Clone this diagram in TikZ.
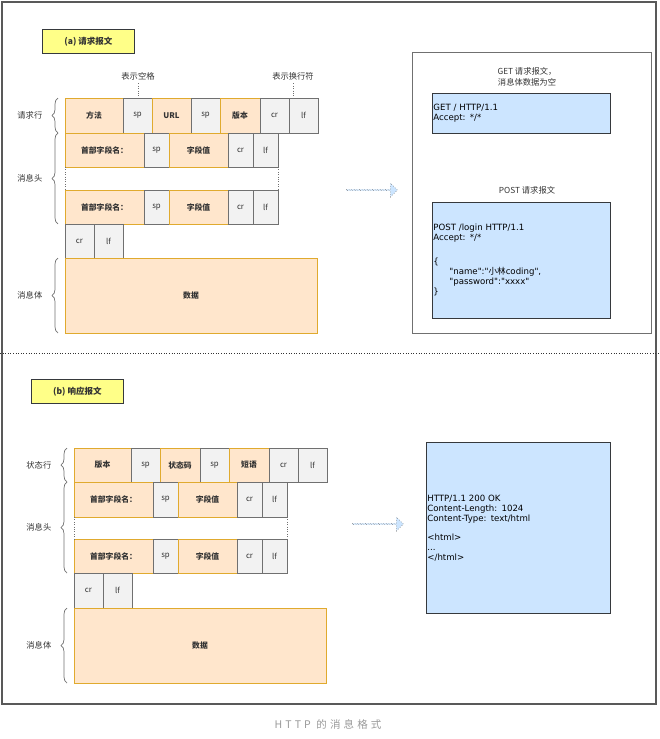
\documentclass[tikz,border=0pt]{standalone}
\usepackage{fontspec}
\setmainfont{Noto Sans CJK SC}
\newfontfamily\codefont{DejaVu Sans}
\newfontfamily\cjkfont{Noto Sans CJK SC}
\usepackage{xcolor}
\usetikzlibrary{positioning,shapes.arrows,decorations.pathreplacing}
\definecolor{peach}{HTML}{FFE6CC}
\definecolor{gold}{HTML}{E0AA2E}
\definecolor{cellfill}{HTML}{F2F2F2}
\definecolor{cellline}{HTML}{707070}
\definecolor{codeblue}{HTML}{CCE5FF}
\definecolor{boxline}{HTML}{36393D}
\definecolor{tagyellow}{HTML}{FFFF88}
\definecolor{txtgray}{HTML}{333333}

\begin{document}
\begin{tikzpicture}[
  x=1pt, y=-1pt,
  font=\fontsize{7.5}{9}\selectfont, text=txtgray,
  cell/.style={draw, inner sep=0pt, outer sep=0pt, minimum height=35pt, line width=0.8pt},
  fcell/.style={cell, fill=peach, draw=gold, font=\fontsize{7.8}{9}\selectfont\bfseries},
  gcell/.style={cell, fill=cellfill, draw=cellline, font=\fontsize{7.8}{9}\selectfont},
  tag/.style={draw=boxline, fill=tagyellow, line width=0.8pt, minimum width=92pt, minimum height=24pt, font=\fontsize{8.5}{9}\selectfont\bfseries},
  brace/.style={decorate, decoration={brace, amplitude=6pt}, draw=cellline, line width=0.7pt},
  blabel/.style={left=12pt, font=\fontsize{8.3}{9}\selectfont},
  note/.style={align=center, font=\fontsize{8.3}{10.5}\selectfont},
  codebox/.style={draw=boxline, fill=codeblue, line width=0.8pt, align=left, inner sep=1pt, anchor=north west, text=black, font=\codefont\fontsize{8.6}{10}\selectfont},
  panel/.style={draw=cellline, line width=0.8pt, inner sep=0pt, anchor=north west},
  bigarrow/.style={single arrow, draw=black!55, dotted, line width=0.6pt, fill=codeblue, inner sep=0pt, minimum width=14pt, minimum height=51pt, single arrow head extend=3pt}
]
\useasboundingbox (0,0) rectangle (660,739);
\draw[draw=black!65, line width=1.6pt] (2,2) rectangle (656,704);

% (a) request
\node[tag, anchor=north west] (taga) at (42,29) {(a)\ 请求报文};
\node[fcell, minimum width=58pt, anchor=north west] (r1) at (65,98) {方法};
\node[gcell, minimum width=29pt, right=0pt of r1] (r2) {sp};
\node[fcell, minimum width=39pt, right=0pt of r2] (r3) {URL};
\node[gcell, minimum width=29pt, right=0pt of r3] (r4) {sp};
\node[fcell, minimum width=40pt, right=0pt of r4] (r5) {版本};
\node[gcell, minimum width=29pt, right=0pt of r5] (r6) {cr};
\node[gcell, minimum width=29pt, right=0pt of r6] (r7) {lf};
\node[note] (sptxt) at (138,76) {表示空格};
\node[note] (nltxt) at (293,76) {表示换行符};
\draw[dotted, cellline] (sptxt.south) -- (sptxt.south |- r2.north);
\draw[dotted, cellline] (nltxt.south) -- (nltxt.south |- r7.north);

\node[fcell, minimum width=79pt, minimum height=34pt, anchor=north west] (h1) at (r1.south west) {首部字段名：};
\node[gcell, minimum width=25pt, minimum height=34pt, right=0pt of h1] (h2) {sp};
\node[fcell, minimum width=59pt, minimum height=34pt, right=0pt of h2] (h3) {字段值};
\node[gcell, minimum width=25pt, minimum height=34pt, right=0pt of h3] (h4) {cr};
\node[gcell, minimum width=25pt, minimum height=34pt, right=0pt of h4] (h5) {lf};

\node[fcell, minimum width=79pt, minimum height=34pt, below=23pt of h1] (k1) {首部字段名：};
\node[gcell, minimum width=25pt, minimum height=34pt, right=0pt of k1] (k2) {sp};
\node[fcell, minimum width=59pt, minimum height=34pt, right=0pt of k2] (k3) {字段值};
\node[gcell, minimum width=25pt, minimum height=34pt, right=0pt of k3] (k4) {cr};
\node[gcell, minimum width=25pt, minimum height=34pt, right=0pt of k4] (k5) {lf};
\draw[dotted, cellline] (h1.south west) -- (k1.north west);
\draw[dotted, cellline] (h5.south east) -- (k5.north east);

\node[gcell, minimum width=29pt, minimum height=34pt, anchor=north west] (c1) at (k1.south west) {cr};
\node[gcell, minimum width=29pt, minimum height=34pt, right=0pt of c1] (c2) {lf};
\node[fcell, minimum width=252pt, minimum height=75pt, anchor=north west] (d1) at (c1.south west) {数据};

\draw[brace] ([xshift=-7pt]r1.south west) -- node[blabel] {请求行} ([xshift=-7pt]r1.north west);
\draw[brace] ([xshift=-7pt]k1.south west) -- node[blabel] {消息头} ([xshift=-7pt]h1.north west);
\draw[brace] ([xshift=-7pt]d1.south west) -- node[blabel] {消息体} ([xshift=-7pt]d1.north west);

\node[bigarrow] (arra) at (371.5,190) {};

\node[panel, minimum width=239pt, minimum height=281pt] (pa) at (412,52) {};
\node[note] (gett) at (527,77) {GET 请求报文，\\消息体数据为空};
\node[codebox, text width=176pt, minimum height=40pt] (getb) at (432,93) {GET / HTTP/1.1\\Accept: */*};
\node[note] (postt) at (527,190) {POST 请求报文};
\node[codebox, text width=176pt, minimum height=116pt] (postb) at (432,202) {POST /login HTTP/1.1\\Accept: */*\\[14pt]\{\\\hspace*{16pt}"name":"{\cjkfont 小林}coding",\\\hspace*{16pt}"password":"xxxx"\\\}};

\draw[dotted, line width=0.6pt, black!80] (0,353) -- (660,353);

% (b) response
\node[tag, anchor=north west] (tagb) at (31,379) {(b)\ 响应报文};
\node[fcell, minimum width=57pt, minimum height=34pt, anchor=north west] (s1) at (74,448) {版本};
\node[gcell, minimum width=29pt, minimum height=34pt, right=0pt of s1] (s2) {sp};
\node[fcell, minimum width=40pt, minimum height=34pt, right=0pt of s2] (s3) {状态码};
\node[gcell, minimum width=29pt, minimum height=34pt, right=0pt of s3] (s4) {sp};
\node[fcell, minimum width=40pt, minimum height=34pt, right=0pt of s4] (s5) {短语};
\node[gcell, minimum width=29pt, minimum height=34pt, right=0pt of s5] (s6) {cr};
\node[gcell, minimum width=29pt, minimum height=34pt, right=0pt of s6] (s7) {lf};

\node[fcell, minimum width=79pt, anchor=north west] (m1) at (s1.south west) {首部字段名：};
\node[gcell, minimum width=25pt, right=0pt of m1] (m2) {sp};
\node[fcell, minimum width=59pt, right=0pt of m2] (m3) {字段值};
\node[gcell, minimum width=25pt, right=0pt of m3] (m4) {cr};
\node[gcell, minimum width=25pt, right=0pt of m4] (m5) {lf};

\node[fcell, minimum width=79pt, minimum height=34pt, below=22pt of m1] (n1) {首部字段名：};
\node[gcell, minimum width=25pt, minimum height=34pt, right=0pt of n1] (n2) {sp};
\node[fcell, minimum width=59pt, minimum height=34pt, right=0pt of n2] (n3) {字段值};
\node[gcell, minimum width=25pt, minimum height=34pt, right=0pt of n3] (n4) {cr};
\node[gcell, minimum width=25pt, minimum height=34pt, right=0pt of n4] (n5) {lf};
\draw[dotted, cellline] (m1.south west) -- (n1.north west);
\draw[dotted, cellline] (m5.south east) -- (n5.north east);

\node[gcell, minimum width=29pt, anchor=north west] (e1) at (n1.south west) {cr};
\node[gcell, minimum width=29pt, right=0pt of e1] (e2) {lf};
\node[fcell, minimum width=252pt, minimum height=75pt, anchor=north west] (d2) at (e1.south west) {数据};

\draw[brace] ([xshift=-7pt]s1.south west) -- node[blabel] {状态行} ([xshift=-7pt]s1.north west);
\draw[brace] ([xshift=-7pt]n1.south west) -- node[blabel] {消息头} ([xshift=-7pt]m1.north west);
\draw[brace] ([xshift=-7pt]d2.south west) -- node[blabel] {消息体} ([xshift=-7pt]d2.north west);

\node[bigarrow] (arrb) at (377.5,524) {};

\node[codebox, text width=182pt, minimum height=171pt] (respb) at (426,442) {HTTP/1.1 200 OK\\Content-Length: 1024\\Content-Type: text/html\\[9pt]<html>\\...\\</html>};

\node[font=\fontsize{10.5}{12}\selectfont\addfontfeature{LetterSpace=30}, text=black!40] (cap) at (328,724) {HTTP 的消息格式};
\end{tikzpicture}
\end{document}
